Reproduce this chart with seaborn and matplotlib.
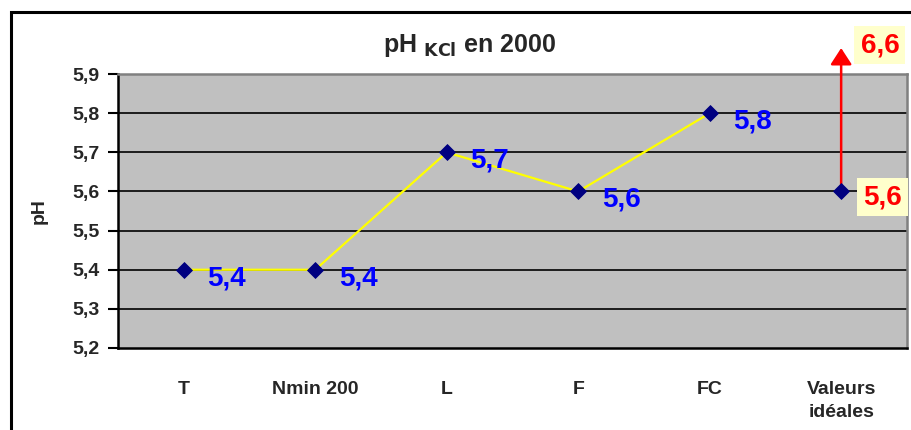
import numpy as np
import pandas as pd
import seaborn as sns
import matplotlib.pyplot as plt
from matplotlib.patches import Rectangle

# data
categories = ["T", "Nmin 200", "L", "F", "FC", "Valeurs\nidéales"]
ph_values = [5.4, 5.4, 5.7, 5.6, 5.8, 5.6]
value_labels = ["5,4", "5,4", "5,7", "5,6", "5,8", "5,6"]
ideal_low = 5.6
ideal_high_label = "6,6"
y_ticks = [5.2, 5.3, 5.4, 5.5, 5.6, 5.7, 5.8, 5.9]
y_tick_labels = ["5,2", "5,3", "5,4", "5,5", "5,6", "5,7", "5,8", "5,9"]

sns.set_style("white")
plt.rcParams['font.family'] = ['Liberation Sans', 'DejaVu Sans']
plt.rcParams['font.weight'] = 'bold'

df = pd.DataFrame({"pos": np.arange(len(categories)), "ph": ph_values})
n_meas = len(categories) - 1

fig = plt.figure(figsize=(9.12, 4.3), dpi=100)
ax = fig.add_axes([0.1294, 0.1907, 0.865, 0.637])
ax.set_facecolor("#C0C0C0")

# outer frame of the chart object (cut by the image edges)
fig.patches.append(Rectangle((0.012, -0.2), 1.2, 1.172, transform=fig.transFigure,
                             fill=False, edgecolor="black", linewidth=2.2))

# gridlines
for yv in y_ticks[1:-1]:
    ax.axhline(yv, color="black", linewidth=1.2, zorder=1)

# measured series: yellow line, navy diamonds
sns.lineplot(data=df.iloc[:n_meas], x="pos", y="ph", color="#FFFF00", linewidth=1.6,
             ax=ax, zorder=2)

# ideal range arrow
ideal_x = df["pos"].iloc[-1]
ax.annotate("", xy=(ideal_x, 1.095), xycoords=("data", "axes fraction"),
            xytext=(ideal_x, ideal_low), textcoords="data",
            arrowprops=dict(arrowstyle="-|>,head_length=1.0,head_width=0.65",
                            color="red", linewidth=1.8, shrinkA=0, shrinkB=0),
            annotation_clip=False, zorder=3)

sns.scatterplot(data=df, x="pos", y="ph", marker="D", s=65, color="#000080",
                edgecolor="#000080", ax=ax, zorder=4, clip_on=False)

# value labels
for i in range(n_meas):
    ax.annotate(value_labels[i], xy=(df["pos"].iloc[i], ph_values[i]),
                xytext=(17, -6), textcoords="offset points", ha="left", va="center",
                color="#0000FF", fontsize=20, fontweight="bold")

box = dict(boxstyle="square,pad=0.22", facecolor="#FFFFCC", edgecolor="none")
ax.annotate(value_labels[-1], xy=(ideal_x, ph_values[-1]), xytext=(16, -4),
            textcoords="offset points", ha="left", va="center", color="red",
            fontsize=20, fontweight="bold", bbox=box, annotation_clip=False)
ax.annotate(ideal_high_label, xy=(ideal_x, 1.095), xycoords=("data", "axes fraction"),
            xytext=(14, 2), textcoords="offset points", ha="left", va="center",
            color="red", fontsize=20, fontweight="bold", bbox=box, annotation_clip=False)

# axes
ax.set_xlim(-0.5, len(categories) - 0.5)
ax.set_ylim(5.2, 5.9)
ax.set_yticks(y_ticks)
ax.set_yticklabels(y_tick_labels, fontsize=14, fontweight="bold")
ax.set_xticks(df["pos"])
ax.set_xticklabels(categories, fontsize=14, fontweight="bold", linespacing=1.4)
ax.set_xticks(np.arange(len(categories) + 1) - 0.5, minor=True)
ax.tick_params(axis="x", which="major", length=0, pad=24)
ax.tick_params(axis="x", which="minor", length=7, width=1.5, direction="out", color="black")
ax.tick_params(axis="y", length=7, width=1.5, direction="out", color="black", left=True, pad=6)
ax.set_xlabel("")
ax.set_ylabel("pH", fontsize=14, fontweight="bold", labelpad=18)

for side in ["left", "bottom"]:
    ax.spines[side].set_color("black")
    ax.spines[side].set_linewidth(1.8)
for side in ["top", "right"]:
    ax.spines[side].set_color("#808080")
    ax.spines[side].set_linewidth(1.8)

fig.text(0.515, 0.895, r"pH $_{\mathbf{KCl}}$ en 2000", ha="center", va="center",
         fontsize=18, fontweight="bold")

fig.savefig("out.png", dpi=100)
